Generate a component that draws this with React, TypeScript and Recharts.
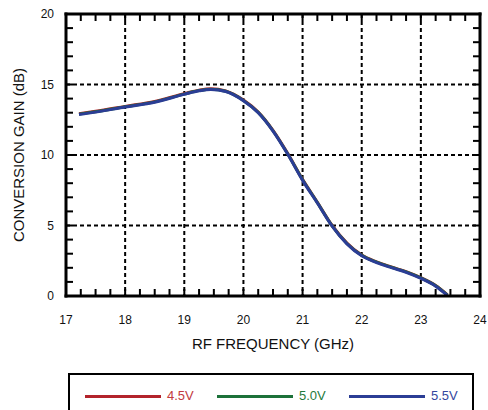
import React from "react";
import {
  LineChart,
  Line,
  XAxis,
  YAxis,
  CartesianGrid,
} from "recharts";

// RF frequency (GHz)
const freq = [
  17.22, 17.5, 18.0, 18.5, 19.0, 19.25, 19.45, 19.7, 20.0, 20.25, 20.5, 20.75,
  21.0, 21.25, 21.5, 21.75, 22.0, 22.25, 22.5, 22.75, 23.0, 23.25, 23.45,
];
// Conversion gain (dB) per supply voltage
const gain45 = [
  12.93, 13.1, 13.45, 13.8, 14.35, 14.6, 14.7, 14.55, 13.9, 13.05, 11.75, 10.1,
  8.27, 6.65, 5.0, 3.75, 2.9, 2.42, 2.06, 1.73, 1.3, 0.74, 0.08,
];
const gain50 = [
  12.9, 13.07, 13.42, 13.77, 14.32, 14.57, 14.67, 14.52, 13.87, 13.02, 11.72,
  10.07, 8.24, 6.62, 4.97, 3.72, 2.88, 2.4, 2.04, 1.71, 1.28, 0.72, 0.06,
];
const gain55 = [
  12.87, 13.04, 13.4, 13.74, 14.3, 14.55, 14.65, 14.5, 13.85, 13.0, 11.7, 10.05,
  8.2, 6.6, 4.95, 3.7, 2.85, 2.37, 2.01, 1.68, 1.25, 0.7, 0.04,
];

const xMajor = [17, 18, 19, 20, 21, 22, 23, 24];
const yMajor = [0, 5, 10, 15, 20];
const gridX = [18, 19, 20, 21, 22, 23];
const gridY = [5, 10, 15];

const series = [
  { key: "v45", name: "4.5V", color: "#B3232B", text: "#C23A40" },
  { key: "v50", name: "5.0V", color: "#1C7139", text: "#1F7A3D" },
  { key: "v55", name: "5.5V", color: "#2B3D95", text: "#34479E" },
];

const data = freq.map((f, i) => ({
  f,
  v45: gain45[i],
  v50: gain50[i],
  v55: gain55[i],
}));

const xMinor: number[] = [];
for (let v = 17; v <= 24.0001; v += 0.25) xMinor.push(Math.round(v * 100) / 100);
const yMinor: number[] = [];
for (let v = 0; v <= 20; v += 1) yMinor.push(v);

const FONT = '"Liberation Sans", Arial, Helvetica, sans-serif';
const axisLine = { stroke: "#000", strokeWidth: 3, strokeLinecap: "square" as const };
const TICK_LEN = 7;
const BOTTOM_MARGIN = 19;
const LEFT_MARGIN = 12;

// custom tick renderers: inward tick mark + optional label
const bottomTick = (p: any) => {
  const c = p.x;
  const ay = p.y - BOTTOM_MARGIN;
  const v = p.payload.value;
  return (
    <g>
      <rect x={c - 1} y={ay - TICK_LEN} width={2} height={TICK_LEN} fill="#000" />
      {xMajor.includes(v) && (
        <text x={p.x} y={p.y} dy="0.71em" textAnchor="middle" fill="#111" fontSize={12} fontFamily={FONT}>
          {String(v)}
        </text>
      )}
    </g>
  );
};
const topTick = (p: any) => {
  const c = p.x;
  const ay = p.y;
  return <rect x={c - 1} y={ay} width={2} height={TICK_LEN} fill="#000" />;
};
const leftTick = (p: any) => {
  const c = p.y;
  const ax = p.x + LEFT_MARGIN;
  const v = p.payload.value;
  return (
    <g>
      <rect x={ax} y={c - 1} width={TICK_LEN} height={2} fill="#000" />
      {yMajor.includes(v) && (
        <text x={p.x} y={p.y} dy="0.355em" textAnchor="end" fill="#111" fontSize={12} fontFamily={FONT}>
          {String(v)}
        </text>
      )}
    </g>
  );
};
const rightTick = (p: any) => {
  const c = p.y;
  const ax = p.x;
  return <rect x={ax - TICK_LEN} y={c - 1} width={TICK_LEN} height={2} fill="#000" />;
};

export default function App() {
  return (
    <div
      style={{
        position: "relative",
        width: 488,
        height: 410,
        overflow: "hidden",
        background: "#fff",
        fontFamily: FONT,
      }}
    >
      <style>{`body{margin:0}`}</style>
      <LineChart
        width={488}
        height={410}
        data={data}
        margin={{ top: 13, right: 7, bottom: 54, left: 0 }}
      >
        <CartesianGrid
          stroke="#000"
          strokeWidth={2}
          strokeDasharray="4 3"
          verticalValues={gridX}
          horizontalValues={gridY}
        />
        <XAxis
          dataKey="f"
          type="number"
          domain={[17, 24]}
          allowDataOverflow
          ticks={xMinor}
          interval={0}
          tickSize={0}
          tickMargin={BOTTOM_MARGIN}
          axisLine={axisLine}
          tickLine={false}
          height={60}
          tick={bottomTick}
          label={{
            value: "RF FREQUENCY (GHz)",
            position: "insideBottom",
            offset: 7.5,
            style: { fill: "#111", fontSize: 15, fontFamily: FONT },
          }}
        />
        <XAxis
          xAxisId="top"
          dataKey="f"
          orientation="top"
          type="number"
          domain={[17, 24]}
          allowDataOverflow
          ticks={xMinor}
          interval={0}
          tickSize={0}
          tickMargin={0}
          axisLine={axisLine}
          tickLine={false}
          height={1}
          tick={topTick}
        />
        <YAxis
          type="number"
          domain={[0, 20]}
          allowDataOverflow
          ticks={yMinor}
          interval={0}
          tickSize={0}
          tickMargin={LEFT_MARGIN}
          axisLine={axisLine}
          tickLine={false}
          width={66}
          tick={leftTick}
          label={{
            value: "CONVERSION GAIN (dB)",
            angle: -90,
            position: "insideLeft",
            offset: 19,
            style: { fill: "#111", fontSize: 15, fontFamily: FONT, textAnchor: "middle" },
          }}
        />
        <YAxis
          yAxisId="r"
          orientation="right"
          type="number"
          domain={[0, 20]}
          allowDataOverflow
          ticks={yMinor}
          interval={0}
          tickSize={0}
          tickMargin={0}
          axisLine={axisLine}
          tickLine={false}
          width={1}
          tick={rightTick}
        />
        {series.map((s) => (
          <Line
            key={s.key}
            dataKey={s.key}
            type="monotone"
            stroke={s.color}
            strokeWidth={3}
            dot={false}
            activeDot={false}
            isAnimationActive={false}
          />
        ))}
      </LineChart>
      <div
        style={{
          position: "absolute",
          left: 68,
          top: 373,
          width: 402,
          height: 60,
          border: "2px solid #000",
        }}
      />
      {series.map((s, i) => {
        const lx = [85, 217, 349][i];
        return (
          <React.Fragment key={s.key}>
            <div
              style={{
                position: "absolute",
                left: lx,
                top: 395,
                width: 76,
                height: 3,
                background: s.color,
              }}
            />
            <div
              style={{
                position: "absolute",
                left: lx + 82,
                top: 388,
                fontSize: 13,
                lineHeight: "16px",
                color: s.text,
                fontFamily: FONT,
              }}
            >
              {s.name}
            </div>
          </React.Fragment>
        );
      })}
    </div>
  );
}
